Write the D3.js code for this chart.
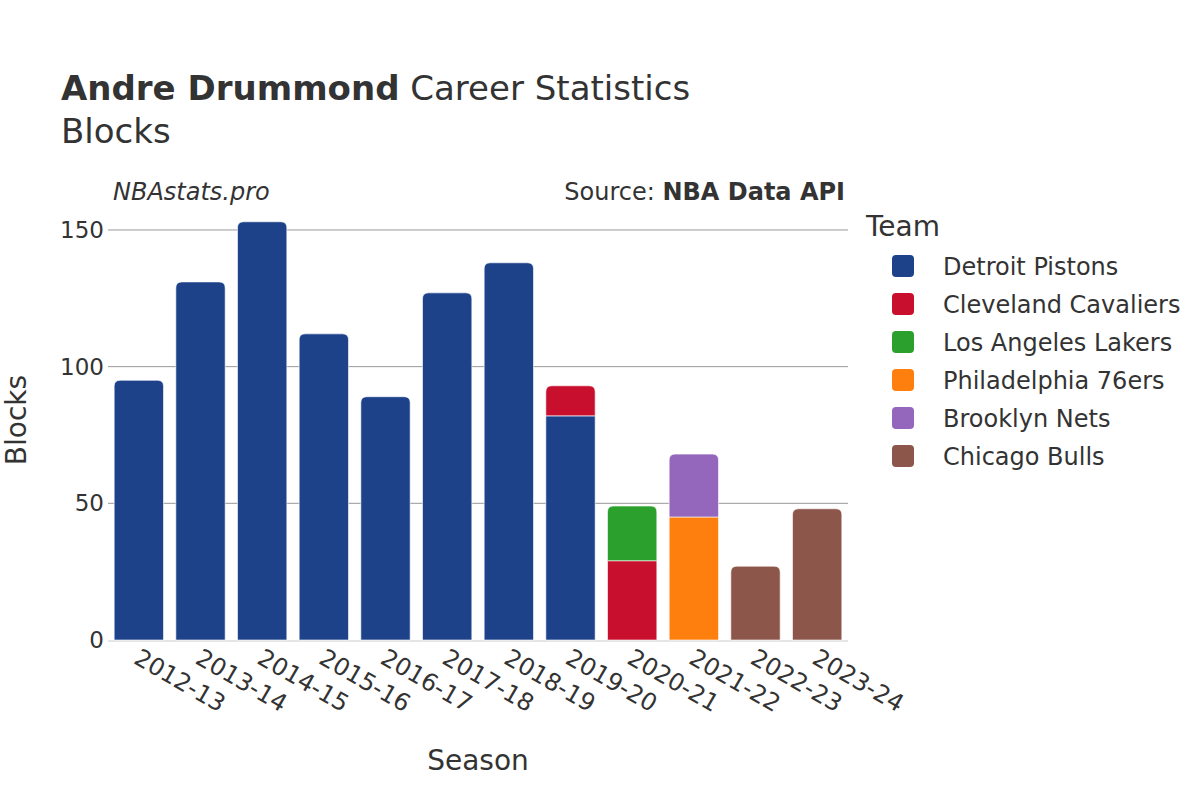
<!DOCTYPE html>
<html><head><meta charset="utf-8">
<script src="https://cdn.jsdelivr.net/npm/d3@7"></script>
<style>body{margin:0;background:#fff;font-family:"DejaVu Sans",sans-serif;}</style>
</head><body><svg id="c" width="1200" height="800"></svg>
<script>
const seasons = ["2012-13","2013-14","2014-15","2015-16","2016-17","2017-18","2018-19","2019-20","2020-21","2021-22","2022-23","2023-24"];
const teams = ["Detroit Pistons","Cleveland Cavaliers","Los Angeles Lakers","Philadelphia 76ers","Brooklyn Nets","Chicago Bulls"];
const teamColors = ["#1d428a","#c8102e","#2ca02c","#ff7f0e","#9467bd","#8c564b"];
const detroit   = [95,131,153,112,89,127,138,82,0,0,0,0];
const cleveland = [0,0,0,0,0,0,0,11,29,0,0,0];
const lakers    = [0,0,0,0,0,0,0,0,20,0,0,0];
const sixers    = [0,0,0,0,0,0,0,0,0,45,0,0];
const nets      = [0,0,0,0,0,0,0,0,0,23,0,0];
const bulls     = [0,0,0,0,0,0,0,0,0,0,27,48];
const yTicks = [0,50,100,150];

const series = [detroit,cleveland,lakers,sixers,nets,bulls];
const svg = d3.select("#c");
const m = {l:108, r:848, t:201, b:640};
const x = d3.scaleBand().domain(seasons).range([m.l,m.r]).paddingInner(0.2).paddingOuter(0.1);
const y = d3.scaleLinear().domain([0,160.6]).range([m.b,m.t]);
const txt = "#333";

// gridlines
svg.append("g").selectAll("line").data(yTicks.filter(d=>d>0)).join("line")
  .attr("x1",m.l).attr("x2",m.r).attr("y1",d=>y(d)).attr("y2",d=>y(d))
  .attr("stroke","#999").attr("stroke-width",1);
svg.append("line").attr("x1",m.l).attr("x2",m.r).attr("y1",y(0)+1).attr("y2",y(0)+1)
  .attr("stroke","#e5e5e5").attr("stroke-width",2);

// stacked bars
const rows = seasons.map((s,i)=>{const o={season:s}; teams.forEach((t,j)=>o[t]=series[j][i]); return o;});
const stack = d3.stack().keys(teams)(rows);
const topIdx = seasons.map((s,i)=>{let k=-1; series.forEach((a,j)=>{if(a[i]>0)k=j;}); return k;});
const r = 6;
function barPath(x0,w,yt,yb,round){
  if(!round) return `M${x0},${yb}V${yt}H${x0+w}V${yb}Z`;
  return `M${x0},${yb}V${yt+r}Q${x0},${yt} ${x0+r},${yt}H${x0+w-r}Q${x0+w},${yt} ${x0+w},${yt+r}V${yb}Z`;
}
stack.forEach((layer,j)=>{
  svg.append("g").selectAll("path").data(layer.map((d,i)=>({d,i})).filter(o=>o.d[1]-o.d[0]>0)).join("path")
    .attr("d",o=>barPath(x(seasons[o.i]),x.bandwidth(),y(o.d[1]),y(o.d[0]),topIdx[o.i]===j))
    .attr("fill",teamColors[j]).attr("stroke","#fff").attr("stroke-opacity",0.6).attr("stroke-width",1);
});

// y ticks
svg.append("g").selectAll("text").data(yTicks).join("text")
  .attr("x",m.l-4).attr("y",d=>y(d)).attr("dy","0.35em").attr("text-anchor","end")
  .attr("font-size",23).attr("fill",txt).text(d=>d);
// x ticks
svg.append("g").selectAll("text").data(seasons).join("text")
  .attr("transform",d=>`translate(${x(d)+x.bandwidth()/2+2},${m.b+8}) rotate(30)`)
  .attr("dy","0.7em").attr("text-anchor","start")
  .attr("font-size",24).attr("fill",txt).text(d=>d);

// axis titles
svg.append("text").attr("x",478).attr("y",770).attr("text-anchor","middle").attr("font-size",28).attr("fill",txt).text("Season");
svg.append("text").attr("transform","translate(26,420) rotate(-90)").attr("text-anchor","middle").attr("font-size",28).attr("fill",txt).text("Blocks");

// title
const t = svg.append("text").attr("x",61).attr("y",100).attr("font-size",34).attr("fill",txt);
t.append("tspan").attr("font-weight","bold").text("Andre Drummond");
t.append("tspan").text(" Career Statistics");
svg.append("text").attr("x",61).attr("y",143).attr("font-size",34).attr("fill",txt).text("Blocks");

svg.append("text").attr("x",113).attr("y",200).attr("font-size",24).attr("font-style","italic").attr("fill",txt).text("NBAstats.pro");
const s = svg.append("text").attr("x",845).attr("y",200).attr("text-anchor","end").attr("font-size",24).attr("fill",txt);
s.append("tspan").text("Source: ");
s.append("tspan").attr("font-weight","bold").text("NBA Data API");

// legend
svg.append("text").attr("x",866).attr("y",236).attr("font-size",28).attr("fill",txt).text("Team");
const lg = svg.append("g").selectAll("g").data(teams).join("g")
  .attr("transform",(d,i)=>`translate(0,${266+i*38})`);
lg.append("rect").attr("x",892).attr("y",-11).attr("width",22).attr("height",22).attr("rx",4)
  .attr("fill",(d,i)=>teamColors[i]);
lg.append("text").attr("x",943).attr("y",1).attr("dy","0.35em").attr("font-size",24).attr("fill",txt).text(d=>d);
</script></body></html>
